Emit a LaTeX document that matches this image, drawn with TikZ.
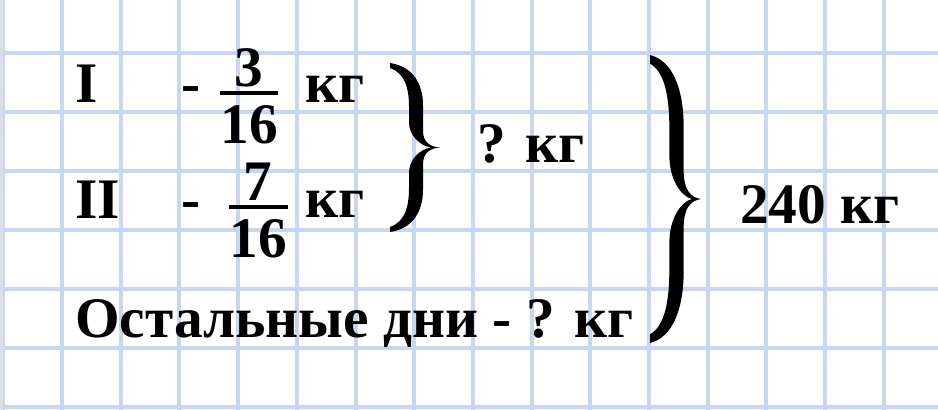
\documentclass[tikz,border=0pt]{standalone}
\usepackage{fontspec}
\setmainfont{Liberation Serif}
\definecolor{gridblue}{RGB}{198,214,245}
\definecolor{edgegray}{RGB}{222,222,226}
\tikzset{
  lbl/.style={anchor=base west, inner sep=0pt, font=\fontsize{43}{50}\selectfont\bfseries},
  gridline/.style={draw=gridblue, line width=3pt},
  fracbar/.style={draw=black, line width=3pt},
  pics/curlybrace/.style={code={
    \fill[black] (0,0) .. controls (0.45,0.02) and (0.66,0.12) .. (0.66,0.25)
      -- (0.66,0.4) .. controls (0.66,0.47) and (0.8,0.495) .. (1,0.5)
      .. controls (0.8,0.505) and (0.66,0.53) .. (0.66,0.6)
      -- (0.66,0.75) .. controls (0.66,0.88) and (0.45,0.98) .. (0,1)
      -- (0,0.97) .. controls (0.3,0.94) and (0.38,0.85) .. (0.38,0.74)
      -- (0.38,0.65) .. controls (0.38,0.57) and (0.6,0.51) .. (0.82,0.5)
      .. controls (0.6,0.49) and (0.38,0.43) .. (0.38,0.35)
      -- (0.38,0.26) .. controls (0.38,0.15) and (0.3,0.06) .. (0,0.03) -- cycle;
  }}
}
\begin{document}
\begin{tikzpicture}[x=0.75pt,y=-0.75pt]
  \useasboundingbox (0,0) rectangle (938,410);
  \fill[white] (0,0) rectangle (938,410);

  % Drawing grid of the exercise book
  \foreach \k in {-1,...,14}
    \draw[gridline] (62+58.7*\k,0) -- (62+58.7*\k,410);
  \foreach \k in {0,...,6}
    \draw[gridline] (0,53.3+59*\k) -- (938,53.3+59*\k);
  \fill[edgegray] (0,0) rectangle (2.5,410);

  % Day I
  \node[lbl] (dayI) at (75,103) {I};
  \node[lbl] (dashI) at (181,103) {-};
  \node[lbl, anchor=base] (numI) at (249,87) {3};
  \node[lbl, anchor=base] (denI) at (249,143) {16};
  \coordinate (barIl) at (220,93);
  \coordinate (barIr) at (278,93);
  \draw[fracbar] (barIl) -- (barIr);
  \node[lbl] (kgI) at (305,103) {кг};

  % Day II
  \node[lbl] (dayII) at (75,218) {II};
  \node[lbl] (dashII) at (181,218) {-};
  \node[lbl, anchor=base] (numII) at (258,200) {7};
  \node[lbl, anchor=base] (denII) at (258,257) {16};
  \coordinate (barIIl) at (229,207);
  \coordinate (barIIr) at (288,207);
  \draw[fracbar] (barIIl) -- (barIIr);
  \node[lbl] (kgII) at (305,217) {кг};

  % Other days
  \node[lbl] (rest) at (75,337) {Остальные дни - ? кг};

  % Brace over days I and II
  \pic[xscale=50, yscale=169] (braceI) at (390,63) {curlybrace};
  \node[lbl] (sumI) at (477,162) {? кг};

  % Brace over all days
  \pic[xscale=51, yscale=288] (braceAll) at (650,55) {curlybrace};
  \node[lbl] (total) at (740,223) {240 кг};
\end{tikzpicture}
\end{document}
